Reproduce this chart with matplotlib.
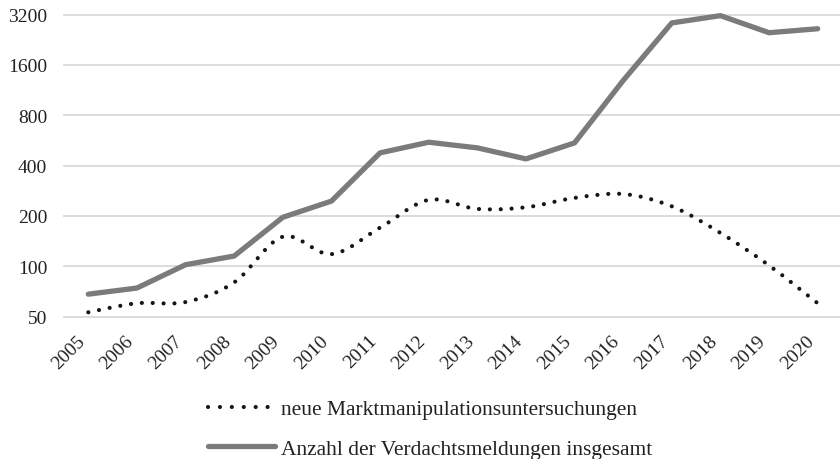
import numpy as np
import matplotlib
matplotlib.use("Agg")
import matplotlib.pyplot as plt
from matplotlib.path import Path
from matplotlib.patches import PathPatch
from matplotlib.lines import Line2D
from matplotlib.ticker import FixedLocator, NullLocator

years = [str(y) for y in range(2005, 2021)]
untersuchungen = [53, 60, 61, 80, 150, 118, 170, 249, 220, 225, 256, 270, 228, 158, 101, 60]
meldungen = [68, 74, 102, 115, 196, 245, 476, 551, 510, 438, 546, 1290, 2850, 3150, 2490, 2630]
yticks = [50, 100, 200, 400, 800, 1600, 3200]
label_unters = "neue Marktmanipulationsuntersuchungen"
label_meld = "Anzahl der Verdachtsmeldungen insgesamt"

plt.rcParams["font.family"] = ["Liberation Serif", "DejaVu Serif"]
plt.rcParams["font.size"] = 14

GRAY = "#7b7b7b"
DOT = "#161616"


def smooth_path(xs, ys):
    """Excel-style smoothed line as cubic Bezier segments (in log2 space)."""
    xs = np.asarray(xs, float)
    ly = np.log2(np.asarray(ys, float))
    n = len(xs)
    verts = [(xs[0], 2 ** ly[0])]
    codes = [Path.MOVETO]
    for i in range(n - 1):
        p0 = i - 1 if i > 0 else i
        p3 = i + 2 if i + 2 < n else i + 1
        c1x = xs[i] + (xs[i + 1] - xs[p0]) / 6
        c1y = ly[i] + (ly[i + 1] - ly[p0]) / 6
        c2x = xs[i + 1] - (xs[p3] - xs[i]) / 6
        c2y = ly[i + 1] - (ly[p3] - ly[i]) / 6
        verts += [(c1x, 2 ** c1y), (c2x, 2 ** c2y), (xs[i + 1], 2 ** ly[i + 1])]
        codes += [Path.CURVE4] * 3
    return Path(verts, codes)


fig = plt.figure(figsize=(8.4, 4.6), dpi=100)
L, R, T, B = 64, 842, 15.5, 317.5
ax = fig.add_axes([L / 840, (460 - B) / 460, (R - L) / 840, (B - T) / 460])

x = np.arange(len(years))
ax.set_yscale("log", base=2)
ax.set_ylim(50, 3200)
ax.set_xlim(-0.5, len(years) - 0.5)

for v in yticks:
    ax.axhline(v, color="#d9d9d9", lw=1.3, zorder=0, clip_on=False)

dot_lw = 3.0
patch = PathPatch(smooth_path(x, untersuchungen), fill=False, edgecolor=DOT,
                  lw=dot_lw, linestyle=(0, (0.01, 2.6)), capstyle="round", zorder=3)
ax.add_patch(patch)

ax.plot(x, meldungen, color=GRAY, lw=3.8, solid_joinstyle="round",
        solid_capstyle="round", zorder=4, clip_on=False)

ax.yaxis.set_major_locator(FixedLocator(yticks))
ax.yaxis.set_minor_locator(NullLocator())
ax.set_yticklabels([str(v) for v in yticks])
ax.set_xticks(x)
ax.set_xticklabels(years, rotation=45, ha="right", va="top")
ax.tick_params(axis="both", length=0, colors="#222222")
ax.tick_params(axis="y", pad=12)
ax.tick_params(axis="x", pad=11)
for s in ax.spines.values():
    s.set_visible(False)

handles = [
    Line2D([], [], color=DOT, lw=dot_lw, linestyle=(0, (0.01, 2.85)),
           dash_capstyle="round"),
    Line2D([], [], color=GRAY, lw=3.8, solid_capstyle="round"),
]
fig.legend(handles, [label_unters, label_meld], loc="upper left",
           bbox_to_anchor=(208 / 840, (460 - 400) / 460), frameon=False,
           borderpad=0, borderaxespad=0, handlelength=3.1, handletextpad=0.3,
           labelspacing=0.9, fontsize=15.5, labelcolor="#222222")

fig.savefig("out.png", dpi=100)
